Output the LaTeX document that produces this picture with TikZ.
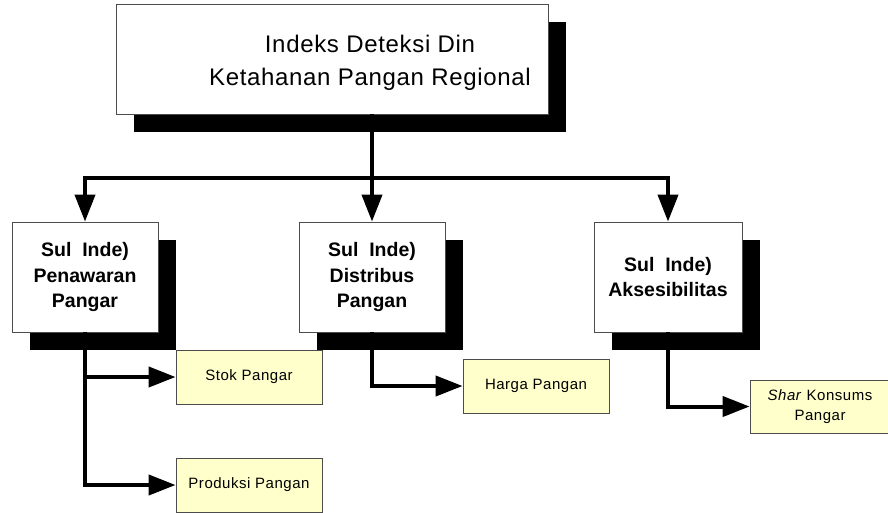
\documentclass[tikz,border=0pt]{standalone}
\usepackage{fontspec}
\setmainfont{Liberation Sans}
\usetikzlibrary{arrows.meta,shadows}
\definecolor{leafyellow}{RGB}{255,255,204}
\begin{document}
\begin{tikzpicture}[x=1pt,y=-1pt,
  mainbox/.style={draw=black!70, line width=0.8pt, fill=white, inner sep=0pt,
    general shadow={shadow xshift=18pt, shadow yshift=-18pt, fill=black}},
  subbox/.style={mainbox, minimum width=146pt, minimum height=110pt, align=center,
    font=\bfseries\fontsize{19.5}{25.5}\selectfont},
  leaf/.style={draw=black!70, line width=0.8pt, fill=leafyellow, minimum width=146pt,
    minimum height=54pt, inner sep=0pt, align=center,
    font=\fontsize{15}{19.5}\selectfont\addfontfeatures{LetterSpace=3.5}},
  tip/.tip={Triangle[length=27pt,width=20pt]},
  conn/.style={line width=4pt, -tip},
]
\useasboundingbox (0,0) rectangle (888,512);
\clip (0,0) rectangle (888,512);
% top box
\node[mainbox, minimum width=432pt, minimum height=110pt] (top) at (332,59) {};
\node[align=center, inner sep=0pt, font=\fontsize{24}{33}\selectfont\addfontfeatures{LetterSpace=2.8}] (title) at (370,63) {Indeks Deteksi Din\\Ketahanan Pangan Regional};
% sub boxes
\node[subbox] (b1) at (85,277) {Sul\ \ Inde)\\Penawaran\\Pangar};
\node[subbox] (b2) at (372,277) {Sul\ \ Inde)\\Distribus\\Pangan};
\node[subbox, minimum width=148pt] (b3) at (668,277) {Sul\ \ Inde)\\Aksesibilitas};
% leaves
\node[leaf] (stok) at (249,377) {Stok Pangar};
\node[leaf] (prod) at (249,485) {Produksi Pangan};
\node[leaf] (harga) at (536,386) {Harga Pangan};
\node[leaf, minimum width=140pt, minimum height=53pt] (share) at (820,406.5) {\textit{Shar} Konsums\\Pangar};
% connectors
\coordinate (bar) at (0,178);
\draw[conn] (b2.north |- top.south) -- (b2.north);
\draw[line width=4pt, tip-tip] (b1.north) -- (b1.north |- bar) -- (b3.north |- bar) -- (b3.north);
\draw[conn] (b1.south) |- (stok.west);
\draw[conn] (b1.south) |- (prod.west);
\draw[conn] (b2.south) |- (harga.west);
\draw[conn] (b3.south) |- (share.west);
\end{tikzpicture}
\end{document}
